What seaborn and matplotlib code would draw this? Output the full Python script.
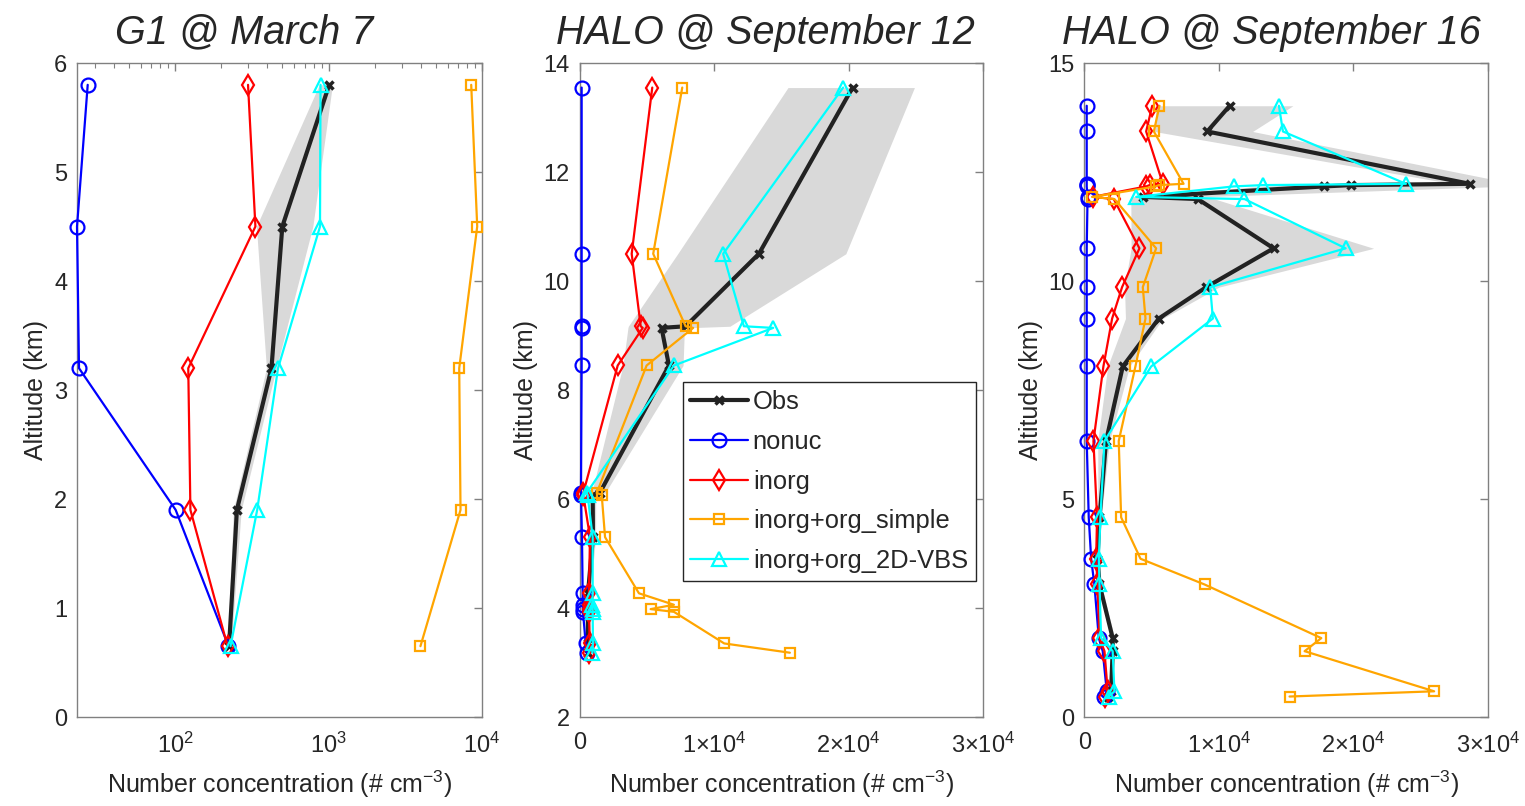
import numpy as np
import matplotlib
matplotlib.use('Agg')
import matplotlib.pyplot as plt
import seaborn as sns

# ---- G1 @ March 7 (log x) ----
alt1 = [5.8, 4.5, 3.2, 1.9, 0.65]
obs1 = [1010, 500, 425, 253, 225]
obs1_lo = [870, 339, 394, 240, 220]
obs1_hi = [1060, 790, 457, 270, 232]
nonuc1 = [27, 23, 23.7, 101, 223]
inorg1 = [299, 334, 122, 126, 220]
simple1 = [8500, 9300, 7100, 7240, 3970]
vbs1 = [887, 880, 469, 343, 230]

# ---- HALO @ September 12 ----
alt2 = [13.55, 10.5, 9.17, 9.14, 8.45, 6.11, 6.08, 5.3, 4.27, 4.06, 3.98, 3.93, 3.35, 3.18]
obs2 = [20300, 13340, 7890, 6100, 6650, 1500, 980, 1000, 630, 620, 620, 620, 630, 630]
obs2_lo = [15500, 7300, 3630, 3600, 3230, 900, 800, 800, 500, 500, 500, 500, 500, 500]
obs2_hi = [24900, 19800, 11180, 7800, 7700, 1900, 1200, 1200, 800, 800, 800, 800, 800, 800]
nonuc2 = [160, 160, 160, 160, 160, 110, 110, 185, 235, 235, 250, 260, 460, 530]
inorg2 = [5410, 3880, 4550, 4700, 2840, 280, 280, 780, 700, 700, 700, 700, 760, 700]
simple2 = [7640, 5480, 7890, 8450, 4990, 1280, 1650, 1900, 4420, 7020, 5290, 7020, 10760, 15640]
vbs2 = [19600, 10680, 12220, 14400, 7020, 530, 600, 980, 980, 950, 980, 980, 1000, 950]

# ---- HALO @ September 16 ----
alt3 = [14.02, 13.43, 12.23, 12.2, 12.17, 11.93, 11.88, 10.75, 9.86, 9.14, 8.04,
        6.33, 4.58, 3.63, 3.04, 1.81, 1.51, 0.59, 0.47]
obs3 = [10800, 9130, 28650, 19850, 17800, 4340, 8430, 14060, 9060, 5530, 2850,
        1610, 1120, 970, 1120, 2100, 2100, 1980, 1730]
obs3_lo = [5330, 5200, 27400, 15000, 13000, 3450, 3450, 3470, 2980, 3050, 1730,
           990, 1000, 850, 1000, 1950, 1950, 1850, 1600]
obs3_hi = [15500, 12500, 32000, 31000, 31000, 8560, 9700, 21500, 10000, 5830, 3350,
           1860, 1250, 1100, 1250, 2250, 2250, 2100, 1850]
nonuc3 = [170, 170, 170, 170, 170, 230, 230, 170, 170, 170, 170,
          170, 320, 500, 740, 1070, 1360, 1660, 1490]
inorg3 = [5040, 4590, 5830, 4840, 4600, 620, 2180, 4090, 2800, 2060, 1410,
          670, 940, 870, 970, 1120, 1490, 1730, 1560]
simple3 = [5580, 5160, 7370, 5530, 5300, 570, 2230, 5330, 4340, 4540, 3790,
           2550, 2730, 4170, 8930, 17610, 16370, 26000, 15250]
vbs3 = [14460, 14760, 23900, 13270, 11090, 3850, 11900, 19420, 9350, 9550, 4960,
        1490, 1190, 1070, 1120, 1240, 2100, 2230, 1810]

titles = ['G1 @ March 7', 'HALO @ September 12', 'HALO @ September 16']
title_x = [0.413, 0.46, 0.4635]
names = ['Obs', 'nonuc', 'inorg', 'inorg+org_simple', 'inorg+org_2D-VBS']

sns.set_style('white')
plt.rcParams['font.family'] = ['Liberation Sans', 'DejaVu Sans']
plt.rcParams['mathtext.fontset'] = 'custom'
plt.rcParams['mathtext.rm'] = 'Liberation Sans'
plt.rcParams['mathtext.it'] = 'Liberation Sans:italic'

fig = plt.figure(figsize=(15.25, 8.06), dpi=100)
ax1 = fig.add_axes([0.0505, 0.1104, 0.2656, 0.8114])
ax2 = fig.add_axes([0.3800, 0.1104, 0.2646, 0.8114])
ax3 = fig.add_axes([0.7111, 0.1104, 0.2646, 0.8114])

panels = [
    (ax1, alt1, obs1, obs1_lo, obs1_hi, [nonuc1, inorg1, simple1, vbs1]),
    (ax2, alt2, obs2, obs2_lo, obs2_hi, [nonuc2, inorg2, simple2, vbs2]),
    (ax3, alt3, obs3, obs3_lo, obs3_hi, [nonuc3, inorg3, simple3, vbs3]),
]

styles = [('#0000ff', 'o', 10), ('#ff0000', 'd', 10), ('#ffa500', 's', 7.5), ('#00ffff', '^', 10)]

for i, (ax, alt, obs, lo, hi, models) in enumerate(panels):
    if i == 0:
        ax.set_xscale('log')
    ax.fill_betweenx(alt, lo, hi, color='#d9d9d9', lw=0, zorder=1)
    sns.lineplot(x=np.array(obs), y=np.array(alt), sort=False, estimator=None, ax=ax,
                 color='#222222', lw=3, marker='x', markersize=6, markeredgewidth=2.5,
                 markeredgecolor='#222222', label=names[0], legend=False, zorder=3,
                 clip_on=False)
    for (c, m, ms), vals, nm in zip(styles, models, names[1:]):
        sns.lineplot(x=np.array(vals), y=np.array(alt), sort=False, estimator=None, ax=ax,
                     color=c, lw=1.6, marker=m, markersize=ms, markerfacecolor='none',
                     markeredgecolor=c, markeredgewidth=1.6, label=nm, legend=False,
                     zorder=3, clip_on=False)
    ax.set_title(titles[i], fontsize=28.5, style='italic', pad=14, x=title_x[i])
    ax.set_xlabel('Number concentration (# cm$^{-3}$)', fontsize=18, color='#262626', labelpad=8)
    ax.set_ylabel('Altitude (km)', fontsize=18, color='#262626', labelpad=4)
    ax.tick_params(direction='in', top=True, right=True, length=6, width=1,
                   labelsize=17, labelcolor='#262626', color='#808080')
    ax.tick_params(axis='x', pad=11)
    ax.tick_params(axis='y', pad=7)
    ax.tick_params(which='minor', direction='in', top=True, right=True, length=3.5,
                   width=0.8, color='#808080')
    for s in ax.spines.values():
        s.set_color('#808080')
        s.set_linewidth(1)

ax1.set_xlim(23, 1e4)
ax1.set_ylim(0, 6)
ax1.set_yticks(range(0, 7))

ax2.set_xlim(0, 3e4)
ax2.set_ylim(2, 14)
ax2.set_yticks(range(2, 15, 2))

ax3.set_xlim(0, 3e4)
ax3.set_ylim(0, 15)
ax3.set_yticks([0, 5, 10, 15])

for ax in (ax2, ax3):
    ax.set_xticks([0, 1e4, 2e4, 3e4])
    ax.set_xticklabels(['0', '1×10$^{4}$', '2×10$^{4}$', '3×10$^{4}$'])

leg = ax2.legend(loc='upper left', bbox_to_anchor=(0.256, 0.512), borderaxespad=0,
                 fontsize=18.4, handlelength=2.24, labelspacing=0.62, handletextpad=0.2,
                 borderpad=0.3, fancybox=False, framealpha=1, edgecolor='#262626')
leg.get_frame().set_linewidth(1)

fig.savefig('out.png', dpi=100)
